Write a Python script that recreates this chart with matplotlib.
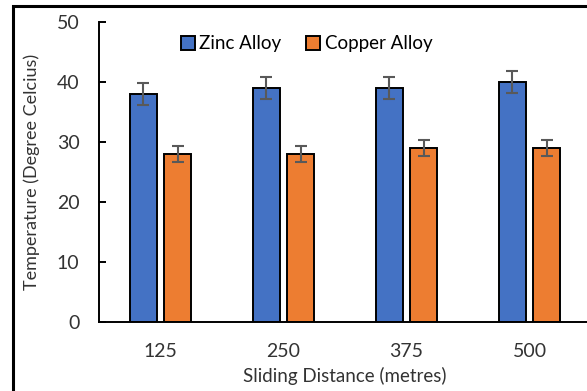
import numpy as np
import matplotlib
matplotlib.use("Agg")
import matplotlib.pyplot as plt
from matplotlib.patches import Rectangle

plt.rcParams['font.family'] = ['Lato', 'DejaVu Sans']

distances = ['125', '250', '375', '500']
zinc = [38, 39, 39, 40]
zinc_err = [1.9, 1.9, 1.9, 1.9]
copper = [28, 28, 29, 29]
copper_err = [1.4, 1.4, 1.4, 1.4]

W, H = 587, 391
fig = plt.figure(figsize=(W / 100, H / 100), dpi=100)
ax = fig.add_axes([99 / W, (H - 322) / H, (591 - 99) / W, 300 / H])

x = np.arange(len(distances))
bw = 0.22
off = 0.142
ekw = dict(ecolor='#595959', elinewidth=1.5, capsize=4.3, capthick=1.5)
ax.bar(x - off, zinc, bw, yerr=zinc_err, color='#4472C4', edgecolor='black',
       linewidth=1.4, label='Zinc Alloy', error_kw=ekw, zorder=2)
ax.bar(x + off, copper, bw, yerr=copper_err, color='#ED7D31', edgecolor='black',
       linewidth=1.4, label='Copper Alloy', error_kw=ekw, zorder=2)

ax.set_xlim(-0.5, len(distances) - 0.5)
ax.set_ylim(0, 50)
ax.set_yticks(np.arange(0, 51, 10))
ax.set_xticks(x)
ax.set_xticklabels(distances)
ax.spines['top'].set_visible(False)
ax.spines['right'].set_visible(False)
ax.spines['left'].set_linewidth(1.4)
ax.spines['bottom'].set_linewidth(1.4)
ax.tick_params(axis='y', direction='in', length=5, width=1.4, pad=14,
               labelsize=14, labelcolor='#333333')
ax.tick_params(axis='x', length=0, pad=15, labelsize=14, labelcolor='#333333')
ax.set_xlabel('Sliding Distance (metres)', fontsize=13.5, color='#333333', labelpad=5)
ax.set_ylabel('Temperature (Degree Celcius)', fontsize=13, color='#333333', labelpad=12)

fig.legend(loc='center', bbox_to_anchor=(0.522, 1 - 44 / H), ncol=2, frameon=False,
           fontsize=13.5, handlelength=0.75, handleheight=0.75, handletextpad=0.25,
           columnspacing=1.3)

fig.patches.append(Rectangle((13 / W, -0.1), 1.2, 1 - 6 / H + 0.1,
                             transform=fig.transFigure, fill=False,
                             edgecolor='black', linewidth=2.2))

fig.savefig('out.png', dpi=100)
